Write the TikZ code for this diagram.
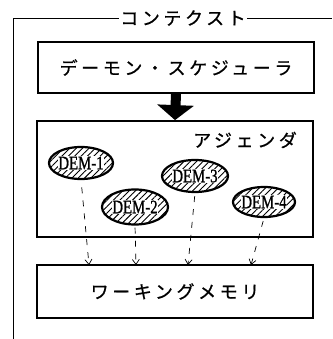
\documentclass[tikz,border=0pt]{standalone}
\usepackage{fontspec}
\setmainfont{Liberation Serif}
\newfontfamily\jp{Noto Sans CJK JP}[LetterSpace=20,FakeBold=0.8]
\newfontfamily\demfont{Liberation Serif}[FakeBold=1.2]
\usetikzlibrary{arrows.meta,patterns.meta,shapes.geometric}
\begin{document}
\begin{tikzpicture}[x=1pt,y=-1pt,
  box/.style={draw, line width=1.8pt, inner sep=0pt, minimum width=276pt},
  jptext/.style={font=\fontsize{18}{18}\selectfont\jp},
  dem/.style={ellipse, draw, line width=2.2pt, inner sep=0pt,
    pattern={Lines[angle=45,distance=4.5pt,line width=0.9pt]},
    minimum width=64pt, minimum height=32pt},
  demtext/.style={font=\fontsize{19}{19}\selectfont\demfont, xscale=0.78,
    inner xsep=0.5pt, inner ysep=0.3pt, fill=white, text height=12.5pt, text depth=0pt},
  dep/.style={line width=0.7pt, dash pattern=on 6pt off 7pt,
    -{Straight Barb[length=5pt,width=7pt]}},
  bigarrow/.style={line width=10pt, -{Triangle[length=15pt,width=36pt]}},
  frame/.style={line width=0.8pt}
]
\useasboundingbox (0,0) rectangle (332,339);
% context frame
\node[jptext, inner sep=1pt] (ctx) at (183,18) {コンテクスト};
\coordinate (fbl) at (13,339);
\coordinate (ftl) at (13,18);
\coordinate (ftr) at (332,18);
\draw[frame] (fbl) -- (ftl) -- (ctx.west);
\draw[frame] (ctx.east) -- (ftr);
% boxes
\node[box, jptext, minimum height=51pt] (sched) at (176,67.5) {デーモン・スケジューラ};
\node[box, minimum height=116pt] (agenda) at (175,179) {};
\node[jptext] (aglabel) at (245,140) {アジェンダ};
\node[box, jptext, minimum height=53pt] (wm) at (175,291.5) {ワーキングメモリ};
\draw[bigarrow] (sched.south) -- (agenda.north);
% daemons
\node[dem] (d1) at (81,163) {};
\node[demtext] (l1) at (d1) {DEM-1};
\node[dem, minimum width=66pt, minimum height=35pt] (d2) at (135,207) {};
\node[demtext] (l2) at (d2) {DEM-2};
\node[dem, minimum width=66pt] (d3) at (195,176) {};
\node[demtext] (l3) at (d3) {DEM-3};
\node[dem, minimum width=62pt, minimum height=30pt] (d4) at (264,202) {};
\node[demtext] (l4) at (d4) {DEM-4};
% dashed connectors
\coordinate (t1) at (89,265);
\coordinate (t2) at (136,265);
\coordinate (t3) at (188,265);
\coordinate (t4) at (251,265);
\draw[dep, shorten <=8pt] (d1.south) -- (t1);
\draw[dep, shorten <=2pt] (d2.south) -- (t2);
\draw[dep, shorten <=3pt] (d3.south) -- (t3);
\draw[dep, shorten <=3pt] (d4.south) -- (t4);
\end{tikzpicture}
\end{document}
